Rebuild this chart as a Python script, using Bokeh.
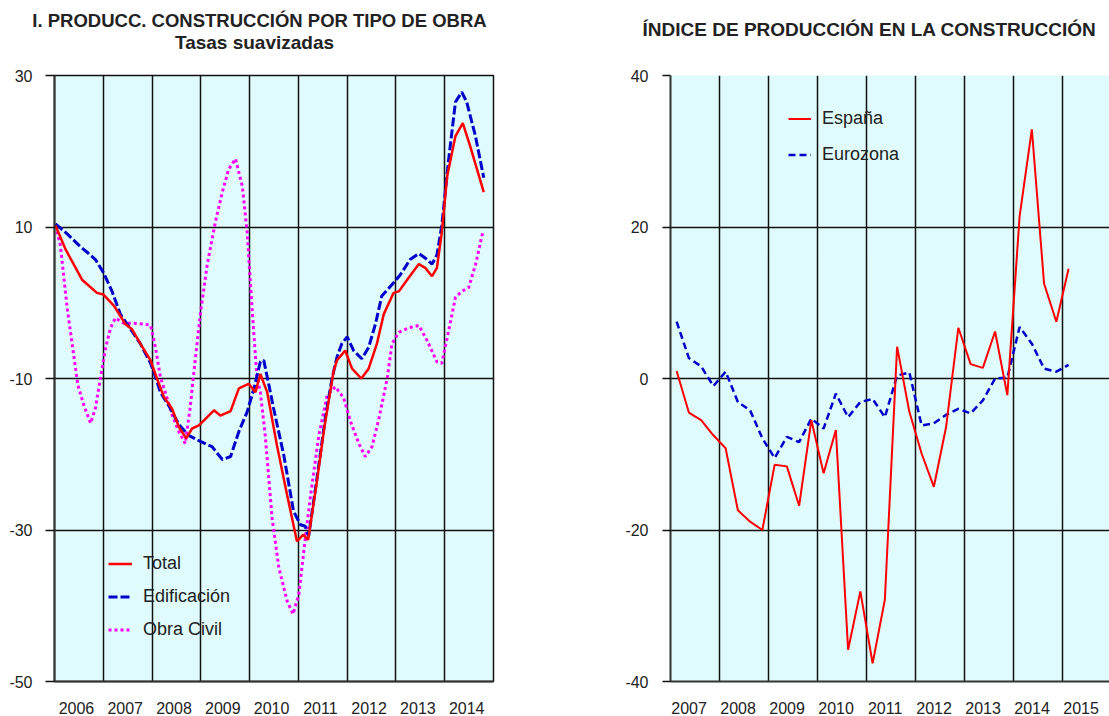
from bokeh.plotting import figure
from bokeh.layouts import row, column
from bokeh.models import FixedTicker, Legend, LegendItem, Range1d
from bokeh.core.properties import value
from bokeh.embed import file_html
from bokeh.resources import INLINE

# ---------------- data: left chart (smoothed rates, %) ----------------
total_x = [2006.02, 2006.23, 2006.57, 2006.87, 2007.00, 2007.22, 2007.45, 2007.59, 2007.76, 2007.97,
           2008.10, 2008.24, 2008.41, 2008.55, 2008.70, 2008.82, 2008.96, 2009.10, 2009.27, 2009.40,
           2009.61, 2009.78, 2009.98, 2010.12, 2010.22, 2010.36, 2010.56, 2010.77, 2010.97, 2011.10,
           2011.20, 2011.37, 2011.54, 2011.72, 2011.79, 2011.96, 2012.10, 2012.29, 2012.44, 2012.61,
           2012.75, 2012.95, 2013.06, 2013.26, 2013.47, 2013.60, 2013.74, 2013.84, 2013.94, 2014.05,
           2014.22, 2014.37, 2014.52, 2014.80]
total_y = [10.2, 7.0, 3.0, 1.3, 1.1, -0.4, -2.8, -3.5, -5.4, -7.6,
           -10.0, -12.4, -14.0, -16.4, -17.9, -16.6, -16.2, -15.3, -14.2, -14.9,
           -14.3, -11.3, -10.7, -11.8, -9.4, -11.8, -18.8, -25.4, -31.5, -30.6,
           -31.3, -24.0, -16.1, -9.1, -7.6, -6.3, -8.7, -10.0, -8.7, -5.4,
           -1.5, 1.3, 1.5, 3.3, 5.1, 4.6, 3.5, 4.6, 9.3, 16.7,
           22.0, 23.7, 20.7, 14.6]

edif_x = [2006.02, 2006.26, 2006.53, 2006.70, 2006.84, 2007.01, 2007.18, 2007.35, 2007.56, 2007.76,
          2007.97, 2008.07, 2008.17, 2008.38, 2008.55, 2008.75, 2008.99, 2009.23, 2009.44, 2009.61,
          2009.78, 2009.95, 2010.09, 2010.22, 2010.29, 2010.39, 2010.49, 2010.70, 2010.90, 2011.04,
          2011.14, 2011.21, 2011.38, 2011.55, 2011.69, 2011.79, 2011.89, 2012.00, 2012.13, 2012.30,
          2012.44, 2012.58, 2012.71, 2012.92, 2013.09, 2013.29, 2013.47, 2013.60, 2013.74, 2013.84,
          2013.94, 2014.08, 2014.22, 2014.35, 2014.45, 2014.63, 2014.80]
edif_y = [10.4, 9.1, 7.4, 6.5, 5.7, 3.9, 1.5, -1.5, -3.5, -5.4,
          -8.0, -9.8, -11.8, -14.0, -16.1, -17.5, -18.3, -19.0, -20.7, -20.3,
          -17.0, -14.4, -11.3, -7.8, -7.6, -10.7, -13.9, -20.1, -27.5, -29.3,
          -29.5, -30.8, -23.2, -15.3, -10.0, -7.2, -5.4, -4.5, -6.3, -7.4,
          -5.9, -2.8, 0.9, 2.4, 3.7, 5.7, 6.5, 5.9, 5.1, 6.3,
          10.2, 18.9, 26.5, 27.8, 26.5, 22.0, 16.5]

civil_x = [2006.02, 2006.12, 2006.26, 2006.40, 2006.48, 2006.60, 2006.74, 2006.84, 2006.94, 2007.05,
           2007.15, 2007.25, 2007.42, 2007.63, 2007.83, 2007.97, 2008.07, 2008.17, 2008.27, 2008.41,
           2008.55, 2008.68, 2008.78, 2008.85, 2008.99, 2009.13, 2009.30, 2009.44, 2009.57, 2009.71,
           2009.85, 2009.95, 2010.05, 2010.15, 2010.22, 2010.32, 2010.46, 2010.60, 2010.77, 2010.89,
           2011.01, 2011.11, 2011.25, 2011.42, 2011.59, 2011.76, 2011.93, 2012.07, 2012.24, 2012.37,
           2012.51, 2012.65, 2012.82, 2012.92, 2013.06, 2013.26, 2013.47, 2013.64, 2013.84, 2013.94,
           2014.08, 2014.22, 2014.35, 2014.49, 2014.63, 2014.78]
civil_y = [10.2, 7.6, -0.7, -7.2, -10.9, -13.5, -15.9, -13.9, -10.0, -5.9,
           -3.3, -2.0, -2.7, -2.7, -2.8, -3.0, -5.9, -9.8, -11.8, -14.8,
           -17.0, -18.6, -13.9, -9.6, -1.5, 5.0, 10.7, 14.6, 17.6, 19.0,
           15.4, 9.3, -0.7, -9.8, -11.8, -17.5, -28.4, -35.0, -39.4, -41.1,
           -38.5, -32.8, -25.4, -17.5, -12.2, -11.1, -12.6, -15.7, -18.6, -20.3,
           -19.0, -15.3, -10.0, -5.4, -3.9, -3.3, -3.0, -5.0, -7.8, -8.0,
           -3.7, 0.7, 1.5, 2.0, 5.0, 9.3]

left_years = ["2006", "2007", "2008", "2009", "2010", "2011", "2012", "2013", "2014"]
left_yticks = [-50, -30, -10, 10, 30]
left_title = "I. PRODUCC. CONSTRUCCIÓN POR TIPO DE OBRA"
left_subtitle = "Tasas suavizadas"

# ---------------- data: right chart (quarterly, %) ----------------
quarters = ["2007Q1", "2007Q2", "2007Q3", "2007Q4", "2008Q1", "2008Q2", "2008Q3", "2008Q4",
            "2009Q1", "2009Q2", "2009Q3", "2009Q4", "2010Q1", "2010Q2", "2010Q3", "2010Q4",
            "2011Q1", "2011Q2", "2011Q3", "2011Q4", "2012Q1", "2012Q2", "2012Q3", "2012Q4",
            "2013Q1", "2013Q2", "2013Q3", "2013Q4", "2014Q1", "2014Q2", "2014Q3", "2014Q4",
            "2015Q1"]
espana = [1.0, -4.5, -5.5, -7.5, -9.2, -17.4, -18.9, -20.0,
          -11.4, -11.6, -16.8, -5.5, -12.5, -6.8, -35.8, -28.1,
          -37.6, -29.2, 4.2, -4.4, -9.9, -14.3, -6.4, 6.7,
          1.9, 1.4, 6.2, -2.2, 21.4, 32.9, 12.5, 7.5,
          14.5]
eurozona = [7.5, 2.7, 1.6, -1.0, 0.9, -3.1, -4.2, -7.9,
            -10.5, -7.7, -8.4, -5.3, -6.6, -2.0, -5.1, -3.1,
            -2.7, -5.1, 0.4, 0.8, -6.2, -5.9, -4.8, -4.0,
            -4.6, -2.9, 0.0, 0.1, 6.8, 4.6, 1.3, 0.9,
            1.8]
right_years = ["2007", "2008", "2009", "2010", "2011", "2012", "2013", "2014", "2015"]
right_yticks = [-40, -20, 0, 20, 40]
right_title = "ÍNDICE DE PRODUCCIÓN EN LA CONSTRUCCIÓN"

FONT = "Liberation Sans"
BG = "#E0FBFB"
GRID = "#111111"
TXT = "#222222"
PAGE_W = 1109
HEAD_H = 55
CHART_H = 661


def style(p, years, yticks, label_shift, tick_out, standoff):
    first = int(years[0])
    p.background_fill_color = BG
    p.border_fill_color = "white"
    p.xaxis.ticker = FixedTicker(ticks=[int(y) + label_shift for y in years])
    p.xaxis.major_label_overrides = {int(y) + label_shift: y for y in years}
    p.xaxis.major_tick_line_color = None
    p.xaxis.minor_tick_line_color = None
    p.xaxis.major_label_standoff = 14
    p.yaxis.ticker = FixedTicker(ticks=yticks)
    p.yaxis.major_label_overrides = {t: str(t) for t in yticks}
    p.yaxis.major_tick_out = tick_out
    p.yaxis.major_tick_in = 0
    p.yaxis.major_tick_line_color = GRID
    p.yaxis.major_tick_line_width = 1.5
    p.yaxis.minor_tick_line_color = None
    p.yaxis.major_label_standoff = standoff
    for ax in (p.xaxis, p.yaxis):
        ax.axis_line_color = "#333333"
        ax.axis_line_width = 2
        ax.major_label_text_font = FONT
        ax.major_label_text_font_size = "16px"
        ax.major_label_text_color = TXT
    p.xgrid.ticker = FixedTicker(ticks=list(range(first + 1, first + len(years) + 1)))
    for g in (p.xgrid, p.ygrid):
        g.grid_line_color = GRID
        g.grid_line_width = 1.5


# ---------------- header with both titles ----------------
head = figure(width=PAGE_W, height=HEAD_H, x_range=Range1d(0, PAGE_W), y_range=Range1d(0, HEAD_H),
              output_backend="svg", toolbar_location=None, min_border=0)
head.axis.visible = False
head.grid.visible = False
head.outline_line_color = None
head.background_fill_color = "white"
head.border_fill_color = "white"
for (x, y_from_top, txt, fs) in [(259, 20, left_title, "18.5px"), (254, 42, left_subtitle, "19px"),
                                 (869, 29, right_title, "19px")]:
    head.text(x=[x], y=[HEAD_H - y_from_top], text=[txt], text_align="center",
              text_baseline="middle", text_font=value(FONT), text_font_size=fs,
              text_font_style="bold", text_color=TXT)

# ---------------- left chart ----------------
p1 = figure(width=600, height=CHART_H, x_range=Range1d(2006, 2015), y_range=Range1d(-50, 30),
            output_backend="svg", toolbar_location=None,
            min_border_left=54, min_border_right=107, min_border_top=20, min_border_bottom=33)
style(p1, left_years, left_yticks, 0.45, 9, 13)
p1.outline_line_color = GRID
p1.outline_line_width = 1.5

r_civil = p1.line(civil_x, civil_y, color="#FF00FF", line_width=3, line_dash="3 3")
r_edif = p1.line(edif_x, edif_y, color="#0000CC", line_width=3, line_dash="9 3")
r_total = p1.line(total_x, total_y, color="#FF0000", line_width=2.5)

leg1 = Legend(items=[LegendItem(label="Total", renderers=[r_total]),
                     LegendItem(label="Edificación", renderers=[r_edif]),
                     LegendItem(label="Obra Civil", renderers=[r_civil])],
              location=(54, 41.5))
p1.add_layout(leg1)

# ---------------- right chart ----------------
qx = [int(q[:4]) + (int(q[-1]) - 0.5) / 4 for q in quarters]

p2 = figure(width=PAGE_W - 600, height=CHART_H, x_range=Range1d(2007, 2015.96), y_range=Range1d(-40, 40),
            output_backend="svg", toolbar_location=None,
            min_border_left=70, min_border_right=0, min_border_top=20, min_border_bottom=33)
style(p2, right_years, right_yticks, 0.38, 8, 14)
p2.outline_line_color = None

r_eu = p2.line(qx, eurozona, color="#0000CC", line_width=2.5, line_dash="7 4")
r_es = p2.line(qx, espana, color="#FF0000", line_width=2)

leg2 = Legend(items=[LegendItem(label="España", renderers=[r_es]),
                     LegendItem(label="Eurozona", renderers=[r_eu])],
              location=(118, 516.5))
p2.add_layout(leg2)

for lg, sp, gw in ((leg1, 12, 24), (leg2, 15, 23)):
    lg.background_fill_alpha = 0
    lg.border_line_color = None
    lg.padding = 0
    lg.margin = 0
    lg.spacing = sp
    lg.glyph_width = gw
    lg.glyph_height = 21
    lg.label_height = 21
    lg.label_standoff = 11
    lg.label_text_font = FONT
    lg.label_text_font_size = "18px"
    lg.label_text_color = TXT

layout = column(head, row(p1, p2))
open("out.html", "w").write(file_html(layout, INLINE))
